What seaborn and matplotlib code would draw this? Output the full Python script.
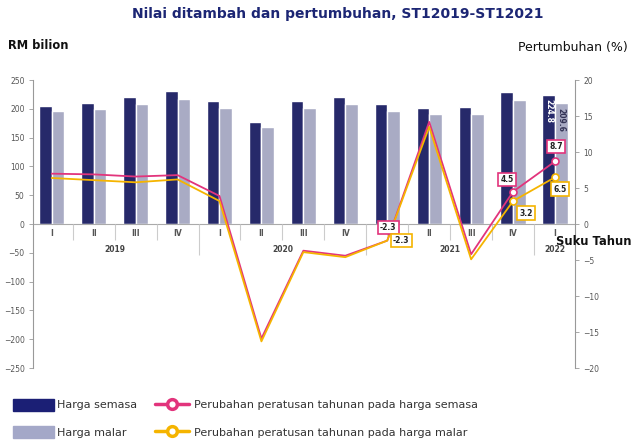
import matplotlib
matplotlib.use("Agg")
import matplotlib.pyplot as plt
import matplotlib.patches as mpatches
import matplotlib.lines as mlines
import seaborn as sns
import numpy as np
import pandas as pd

quarters = ['I', 'II', 'III', 'IV', 'I', 'II', 'III', 'IV', 'I', 'II', 'III', 'IV', 'I']
years = ['2019', '2020', '2021', '2022']
year_quarters = [4, 4, 4, 1]
semasa = [205, 210, 220, 231, 214, 178, 213, 221, 208, 202, 204, 230, 224.8]
malar = [196, 200, 209, 218, 202, 168, 201, 208, 197, 191, 191, 215, 209.6]
pct_semasa = [7.0, 6.9, 6.6, 6.8, 3.9, -15.9, -3.7, -4.4, -2.3, 14.2, -4.2, 4.5, 8.7]
pct_malar = [6.4, 6.1, 5.8, 6.2, 3.2, -16.3, -3.9, -4.6, -2.3, 13.5, -4.9, 3.2, 6.5]

c_semasa = '#1b1f75'
c_malar = '#a4a8c8'
c_pink = '#e2347c'
c_yellow = '#f5b400'
c_title = '#1c2674'
c_tick = '#555555'

sns.set_style('white')

idx = np.arange(len(quarters))
df = pd.DataFrame({
    'pos': np.concatenate([idx, idx]),
    'value': semasa + malar,
    'jenis': ['Harga semasa'] * len(idx) + ['Harga malar'] * len(idx),
})

fig = plt.figure(figsize=(6.32, 4.45), dpi=100)
ax = fig.add_axes([0.052, 0.173, 0.858, 0.647])

sns.barplot(data=df, x='pos', y='value', hue='jenis', ax=ax, width=0.6,
            palette={'Harga semasa': c_semasa, 'Harga malar': c_malar},
            legend=False, native_scale=True)
ax.set_xlim(-0.45, 12.48)
ax.set_ylim(-250, 250)
ax.set_yticks(np.arange(-250, 251, 50))
ax.set_xticks([])
ax.set_xlabel('')
ax.set_ylabel('')
for s in ['top', 'bottom', 'right']:
    ax.spines[s].set_visible(False)
ax.spines['left'].set_color('#999999')
ax.spines['left'].set_linewidth(0.8)
ax.tick_params(axis='y', which='both', left=True, length=3, width=0.6,
               color='#999999', labelsize=5.5, labelcolor=c_tick, pad=3)

# zero line and category separators
ax.axhline(0, color='#aaaaaa', lw=0.8, zorder=1)
bounds = np.cumsum(year_quarters)[:-1] - 0.5
for b in np.arange(0.5, len(quarters) - 0.5, 1):
    low = -54 if b in bounds else -28
    ax.vlines(b, low, 0, color='#cccccc', lw=0.8)
for i, q in enumerate(quarters):
    ax.text(i, -17, q, ha='center', va='center', fontsize=5.5,
            fontweight='bold', color=c_tick)
start = 0
for y, n in zip(years, year_quarters):
    ax.text(start + (n - 1) / 2, -45, y, ha='center', va='center',
            fontsize=5.5, fontweight='bold', color='#444444')
    start += n

# value labels in last bars
last = len(quarters) - 1
ax.text(last - 0.15, semasa[-1] - 8, f'{semasa[-1]:.1f}', rotation=270,
        ha='center', va='top', fontsize=5.5, fontweight='bold', color='white')
ax.text(last + 0.15, malar[-1] - 8, f'{malar[-1]:.1f}', rotation=270,
        ha='center', va='top', fontsize=5.5, fontweight='bold', color='#333355')

ax2 = ax.twinx()
ax2.set_ylim(-20, 20)
ax2.set_yticks(np.arange(-20, 21, 5))
for s in ['top', 'bottom', 'left']:
    ax2.spines[s].set_visible(False)
ax2.spines['right'].set_color('#999999')
ax2.spines['right'].set_linewidth(0.8)
ax2.tick_params(axis='y', right=True, length=3, width=0.6, color='#999999',
                labelsize=5.5, labelcolor=c_tick, pad=3)

mark_idx = [len(idx) - 2, len(idx) - 1]
sns.lineplot(x=idx, y=pct_semasa, ax=ax2, color=c_pink, lw=1.3,
             marker='o', markevery=mark_idx, markersize=5,
             markerfacecolor='white', markeredgecolor=c_pink, markeredgewidth=1.2)
sns.lineplot(x=idx, y=pct_malar, ax=ax2, color=c_yellow, lw=1.3,
             marker='o', markevery=mark_idx, markersize=5,
             markerfacecolor='white', markeredgecolor=c_yellow, markeredgewidth=1.2)
ax2.set_ylabel('')
ax2.set_xlim(-0.45, 12.48)


def box(i, vals, color, dx, dy):
    ax2.annotate(f'{vals[i]:.1f}', (i, vals[i]), xytext=(dx, dy),
                 textcoords='offset pixels', ha='center', va='center',
                 fontsize=5.5, fontweight='bold', color='#222222',
                 bbox=dict(boxstyle='square,pad=0.3', fc='white', ec=color, lw=1.2))


box(8, pct_semasa, c_pink, 1, 13)
box(8, pct_malar, c_yellow, 14, 0)
box(11, pct_semasa, c_pink, -6, 12)
box(11, pct_malar, c_yellow, 13, -12)
box(12, pct_semasa, c_pink, 1, 15)
box(12, pct_malar, c_yellow, 5, -12)

fig.text(0.535, 0.968, 'Nilai ditambah dan pertumbuhan, ST12019-ST12021',
         ha='center', va='center', fontsize=10, fontweight='bold', color=c_title)
fig.text(0.013, 0.897, 'RM bilion', ha='left', va='center', fontsize=8.3,
         fontweight='bold', color='#111111')
fig.text(0.994, 0.893, 'Pertumbuhan (%)', ha='right', va='center',
         fontsize=9, color='#111111')
fig.text(1.0, 0.458, 'Suku Tahun', ha='right', va='center', fontsize=8.3,
         fontweight='bold', color='#111111')

bar_handles = [mpatches.Patch(color=c_semasa, label='Harga semasa'),
               mpatches.Patch(color=c_malar, label='Harga malar')]
line_handles = [
    mlines.Line2D([], [], color=c_pink, lw=2.5, marker='o', markersize=7,
                  mfc='white', mec=c_pink, mew=2.5,
                  label='Perubahan peratusan tahunan pada harga semasa'),
    mlines.Line2D([], [], color=c_yellow, lw=2.5, marker='o', markersize=7,
                  mfc='white', mec=c_yellow, mew=2.5,
                  label='Perubahan peratusan tahunan pada harga malar'),
]
fig.legend(handles=bar_handles, loc='upper left', bbox_to_anchor=(0.02, 0.104),
           frameon=False, fontsize=8, handlelength=3.7, handleheight=1.26,
           handletextpad=0.3, labelspacing=1.38, borderaxespad=0,
           borderpad=0, labelcolor='#333333')
fig.legend(handles=line_handles, loc='upper left', bbox_to_anchor=(0.245, 0.104),
           frameon=False, fontsize=8, handlelength=3.1, handleheight=1.26,
           handletextpad=0.4, labelspacing=1.38, borderaxespad=0,
           borderpad=0, labelcolor='#333333')

fig.savefig('out.png', dpi=100)
